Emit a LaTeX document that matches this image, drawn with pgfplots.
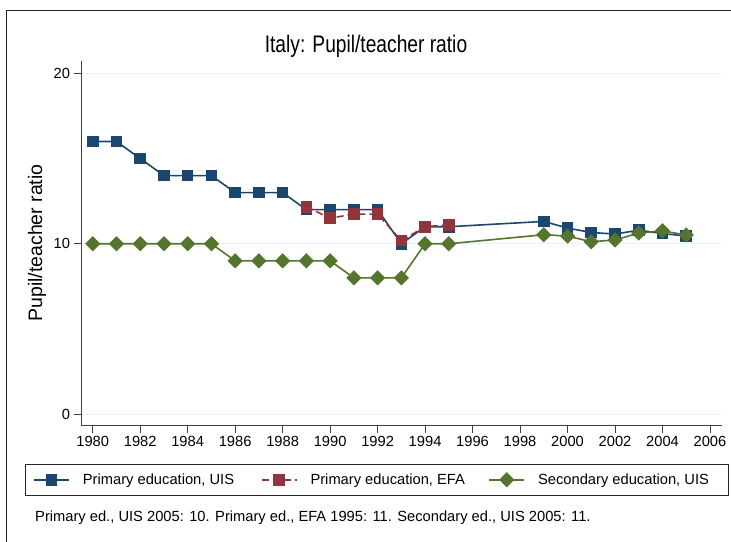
\documentclass[border=0pt]{standalone}
\usepackage{fontspec}
\setmainfont{Liberation Sans}
\usepackage{pgfplots}
\pgfplotsset{compat=1.18}
\definecolor{stnavy}{RGB}{26,71,111}
\definecolor{stmaroon}{RGB}{144,53,59}
\definecolor{stgreen}{RGB}{85,117,47}
\definecolor{stgrid}{RGB}{234,242,243}
\begin{document}
\begin{tikzpicture}[x=1pt,y=1pt]
\useasboundingbox (0,0) rectangle (731,541);
\draw[line width=1.2pt, black!85] (6.7,-5) -- (6.7,530.4) -- (740,530.4);
\node[anchor=base, font=\fontsize{24}{28}\selectfont, xscale=0.8] at (366,488) {Italy: Pupil/teacher ratio};
\node[anchor=base west, font=\fontsize{14.7}{17}\selectfont, inner sep=0pt] at (35,19.5) {Primary ed., UIS 2005: 10. Primary ed., EFA 1995: 11. Secondary ed., UIS 2005: 11.};
\begin{axis}[
  at={(81pt,116pt)}, anchor=south west,
  scale only axis, width=640.7pt, height=364pt,
  xmin=1979.507, xmax=2006.493, ymin=-0.63, ymax=20.72,
  axis lines*=left, axis line style={line width=0.9pt, black!75, -},
  xtick={1980,1982,...,2006}, ytick={0,10,20},
  tick align=outside, major tick length=7.5pt,
  tick style={line width=0.9pt, black!75},
  ymajorgrids, grid style={line width=1.2pt, stgrid},
  /pgf/number format/1000 sep={}, /pgf/number format/assume math mode=true,
  ticklabel style={font=\fontsize{14.7}{17}\selectfont},
  ylabel={Pupil/teacher ratio},
  ylabel style={font=\fontsize{19.5}{22}\selectfont, at={(axis description cs:-0.0687,0.5)}, anchor=center},
  legend columns=3,
  legend style={at={(axis description cs:-0.0875,-0.1065)}, anchor=north west, draw=black!85, line width=0.8pt,
    inner xsep=8pt, inner ysep=7.5pt, font=\fontsize{14.7}{17}\selectfont,
    /tikz/every odd column/.style={column sep=11pt}, /tikz/every even column/.style={column sep=0pt}},
  legend image code/.code={\draw[mark repeat=2, mark phase=2, #1] plot coordinates {(0pt,0pt) (17.5pt,0pt) (35pt,0pt)};},
  clip=false,
]
\addplot[stnavy, line width=1.6pt, mark=square*, mark size=5pt, mark options={solid}] coordinates {
(1980,16) (1981,16) (1982,15) (1983,14) (1984,14) (1985,14) (1986,13) (1987,13) (1988,13)
(1989,12) (1990,12) (1991,12) (1992,12) (1993,10) (1994,11) (1995,11)
(1999,11.31) (2000,10.92) (2001,10.66) (2002,10.57) (2003,10.80) (2004,10.6) (2005,10.45)};
\addlegendentry{\makebox[176pt][l]{Primary education, UIS}}
\addplot[stmaroon, line width=1.6pt, dash pattern=on 7pt off 4pt, mark=square*, mark size=5pt, mark options={solid}] coordinates {
(1989,12.17) (1990,11.5) (1991,11.74) (1992,11.74) (1993,10.18) (1994,11.0) (1995,11.11)};
\addlegendentry{\makebox[176pt][l]{Primary education, EFA}}
\addplot[stgreen, line width=1.6pt, mark=diamond*, mark size=6.5pt, mark options={solid, xscale=1.33}] coordinates {
(1980,10) (1981,10) (1982,10) (1983,10) (1984,10) (1985,10) (1986,9) (1987,9) (1988,9)
(1989,9) (1990,9) (1991,8) (1992,8) (1993,8) (1994,10) (1995,10)
(1999,10.53) (2000,10.45) (2001,10.12) (2002,10.22) (2003,10.63) (2004,10.76) (2005,10.51)};
\addlegendentry{\makebox[180pt][l]{Secondary education, UIS}}
\end{axis}
\end{tikzpicture}
\end{document}
